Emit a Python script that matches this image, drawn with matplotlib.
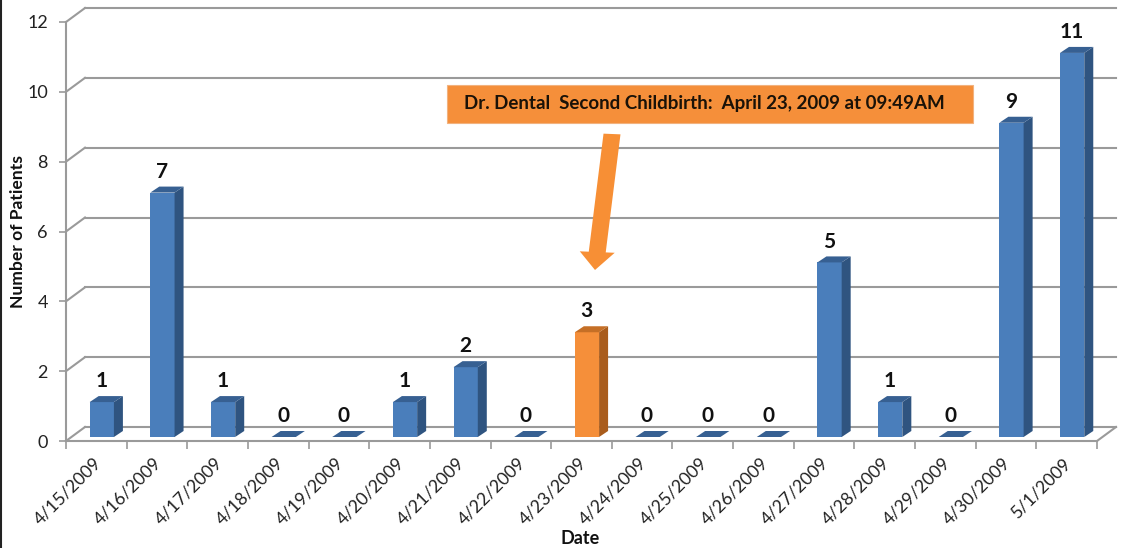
import matplotlib
matplotlib.use("Agg")
import matplotlib.pyplot as plt
from matplotlib.patches import Polygon, FancyArrow

# Daten
dates = ["4/15/2009", "4/16/2009", "4/17/2009", "4/18/2009", "4/19/2009", "4/20/2009",
         "4/21/2009", "4/22/2009", "4/23/2009", "4/24/2009", "4/25/2009", "4/26/2009",
         "4/27/2009", "4/28/2009", "4/29/2009", "4/30/2009", "5/1/2009"]
patients = [1, 7, 1, 0, 0, 1, 2, 0, 3, 0, 0, 0, 5, 1, 0, 9, 11]
y_ticks = [0, 2, 4, 6, 8, 10, 12]
highlight = "4/23/2009"
callout = "Dr. Dental  Second Childbirth:  April 23, 2009 at 09:49AM"

# Pixelmasse
W, H = 1124, 548
left, right, top, bottom = 66, 1097, 22, 441
px_x = 17 / (right - left)
px_y = 12 / (bottom - top)
wall_dx, wall_dy = 19 * px_x, 14 * px_y
bar_off, bar_w = 0.39, 0.40
bar_base = 4 * px_y
side_dx, side_dy = 9 * px_x, 6 * px_y

plt.rcParams["font.family"] = ["Lato", "DejaVu Sans"]
fig = plt.figure(figsize=(W / 100, H / 100), dpi=100)
ax = fig.add_axes([left / W, 1 - bottom / H, (right - left) / W, (bottom - top) / H])
ax.set_xlim(0, 17)
ax.set_ylim(0, 12)
ax.patch.set_visible(False)
for s in ax.spines.values():
    s.set_visible(False)

grey = "#9a9a9a"
# Gitter auf der Rueckwand, Seitenwand und Boden
for t in y_ticks:
    ax.plot([wall_dx, 17 + wall_dx], [t + wall_dy, t + wall_dy], color=grey, lw=1.5, clip_on=False, zorder=1)
    ax.plot([0, wall_dx], [t, t + wall_dy], color=grey, lw=1.5, clip_on=False, zorder=1)
ax.plot([0, 0], [0, 12], color=grey, lw=1.5, clip_on=False, zorder=1)
ax.plot([0, 17], [0, 0], color=grey, lw=1.5, clip_on=False, zorder=1)
ax.plot([17, 17 + wall_dx], [0, wall_dy], color=grey, lw=1.5, clip_on=False, zorder=1)

# Balken
x = [i + bar_off for i in range(len(dates))]
colors = ["#f58f3a" if d == highlight else "#4a7ebb" for d in dates]
ax.bar(x, patients, width=bar_w, bottom=bar_base, align="edge", color=colors,
       edgecolor="none", clip_on=False, zorder=3)
for xi, v, d in zip(x, patients, dates):
    hot = d == highlight
    y0 = bar_base + v
    # Seite und Deckel
    ax.add_patch(Polygon([(xi + bar_w, bar_base), (xi + bar_w + side_dx, bar_base + side_dy),
                          (xi + bar_w + side_dx, y0 + side_dy), (xi + bar_w, y0)],
                         color="#a95c1c" if hot else "#2f5480", lw=0, clip_on=False, zorder=3))
    ax.add_patch(Polygon([(xi, y0), (xi + bar_w, y0), (xi + bar_w + side_dx, y0 + side_dy),
                          (xi + side_dx, y0 + side_dy)],
                         color="#c56f26" if hot else "#376092", lw=0, clip_on=False, zorder=3))
    ax.text(xi + bar_w / 2 - 0.01, y0 + 0.31, str(v), ha="center", va="bottom", fontsize=15,
            fontweight="bold", color="#111111", zorder=5)

# Achsen
ax.set_xticks(range(18))
ax.set_xticklabels([])
ax.set_yticks(y_ticks)
ax.set_yticklabels([str(t) for t in y_ticks], fontsize=13, color="#222222", va="center_baseline")
ax.tick_params(axis="x", length=6, width=1.2, color=grey)
ax.tick_params(axis="y", length=5, width=1.2, color=grey, pad=8)
for i, d in enumerate(dates):
    ax.annotate(d, xy=(i + 0.44, 0), xytext=(0, -10), textcoords="offset points", rotation=45,
                rotation_mode="anchor", ha="right", va="top", fontsize=12.7, color="#222222")

fig.text(18 / W, 1 - 232 / H, "Number of Patients", rotation=90, ha="center", va="center",
         fontsize=12.6, fontweight="bold", color="#111111")
fig.text(580 / W, 1 - 538 / H, "Date", ha="center", va="center", fontsize=13,
         fontweight="bold", color="#111111")

# Hinweis und Pfeil
fig.text(704 / W, 1 - 104 / H, callout, ha="center", va="center", fontsize=13.5, fontweight="bold",
         color="#1a1208", zorder=6)
fig.patches.append(plt.Rectangle((447 / W, 1 - 123 / H), 526 / W, 38 / H, transform=fig.transFigure,
                                 fc="#f58f3a", ec="#f2b27e", lw=0.8, zorder=2))
x_px = lambda p: (p - left) * px_x
y_px = lambda p: (bottom - p) * px_y
ax.add_patch(FancyArrow(x_px(612), y_px(134), x_px(595) - x_px(612), y_px(270) - y_px(134),
                        width=(17 * px_x), head_width=(35 * px_x), head_length=(18 * px_y),
                        length_includes_head=True, color="#f78f35", lw=0, clip_on=False, zorder=4))

# Bildrand links
fig.add_artist(plt.Line2D([1 / W, 1 / W], [0, 1], color="#222222", lw=1.5))

fig.savefig("out.png", dpi=100, facecolor="white")
